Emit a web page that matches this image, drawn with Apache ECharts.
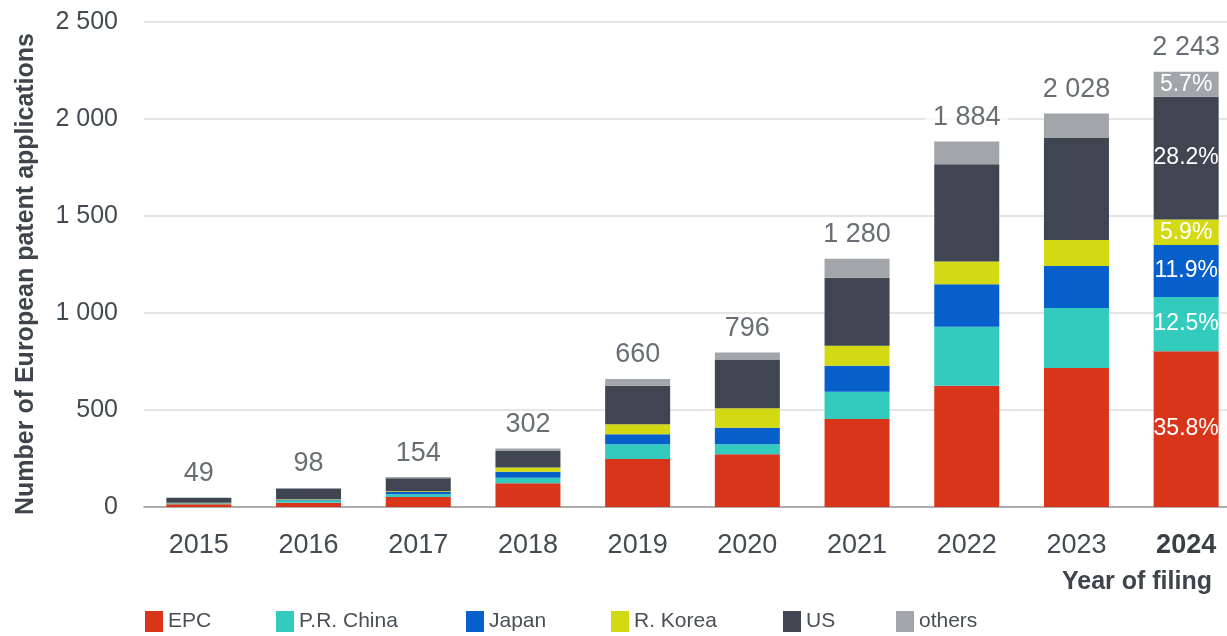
<!DOCTYPE html>
<html>
<head>
<meta charset="utf-8">
<script src="https://cdn.jsdelivr.net/npm/echarts@6/dist/echarts.min.js"></script>
<style>
  html, body { margin: 0; padding: 0; background: #fff; overflow: hidden; }
  #chart { width: 1245px; height: 636px; }
</style>
</head>
<body>
<div id="chart"></div>
<script>
// Filing years and applications by applicant origin
const years = ['2015', '2016', '2017', '2018', '2019', '2020', '2021', '2022', '2023', '2024'];
const epc    = [14, 22, 52, 122, 247, 272, 454, 625, 716, 803];
const china  = [3, 12, 14, 29, 76, 51, 140, 304, 310, 280];
const japan  = [2, 4, 11, 31, 52, 86, 134, 219, 216, 267];
const korea  = [3, 2, 4, 21, 51, 100, 103, 117, 134, 132];
const us     = [24, 55, 67, 86, 199, 249, 351, 502, 526, 633];
const others = [3, 3, 6, 13, 35, 38, 98, 117, 126, 128];
const yTicks = [0, 500, 1000, 1500, 2000, 2500];

const seriesDefs = [
  { name: 'EPC', data: epc, color: '#D8351A', legendX: 145 },
  { name: 'P.R. China', data: china, color: '#33CBBE', legendX: 276 },
  { name: 'Japan', data: japan, color: '#075FCB', legendX: 466 },
  { name: 'R. Korea', data: korea, color: '#D3D913', legendX: 611 },
  { name: 'US', data: us, color: '#3F4551', legendX: 783 },
  { name: 'others', data: others, color: '#A2A5AA', legendX: 896 }
];

const FONT = '"Liberation Sans", Arial, Helvetica, sans-serif';
const TEXT = '#444a52';

const totals = years.map((_, i) => seriesDefs.reduce((s, d) => s + d.data[i], 0));
const lastIdx = years.length - 1;

const fmtThousands = v => String(v).replace(/\B(?=(\d{3})+(?!\d))/g, ' ');

const barSeries = seriesDefs.map(def => ({
  name: def.name,
  type: 'bar',
  stack: 'total',
  barWidth: 65,
  itemStyle: { color: def.color },
  emphasis: { disabled: true },
  data: def.data.map((v, i) => {
    if (i !== lastIdx) return v;
    return {
      value: v,
      label: {
        show: true,
        position: 'inside',
        color: '#fff',
        fontFamily: FONT,
        fontSize: 23,
        formatter: () => (v / totals[i] * 100).toFixed(1) + '%'
      }
    };
  })
}));

// Totals written above each stack
const totalSeries = {
  name: 'Total',
  type: 'scatter',
  symbolSize: 1,
  itemStyle: { color: 'transparent' },
  z: 10,
  data: totals,
  label: {
    show: true,
    position: 'top',
    distance: 10,
    color: TEXT,
    fontFamily: FONT,
    fontSize: 27,
    backgroundColor: '#fff',
    padding: [0, 8],
    formatter: p => fmtThousands(p.value)
  }
};

// One legend block per series so each entry sits at its own x position
const legends = seriesDefs.map(def => ({
  data: [def.name],
  left: def.legendX,
  top: 611,
  padding: 0,
  itemWidth: 18,
  itemHeight: 21,
  itemGap: 0,
  icon: 'rect',
  textStyle: { color: '#4a4f57', fontSize: 21, fontFamily: FONT }
}));

const chart = echarts.init(document.getElementById('chart'));
chart.setOption({
  animation: false,
  backgroundColor: '#fff',
  grid: { left: 144, right: 4, top: 22, height: 485 },
  legend: legends,
  xAxis: {
    type: 'category',
    data: years,
    axisTick: { show: false },
    axisLine: { lineStyle: { color: '#9a9a9a', width: 1.5 } },
    axisLabel: {
      interval: 0,
      margin: 25,
      fontSize: 27,
      color: TEXT,
      fontFamily: FONT,
      formatter: (v, i) => i === lastIdx ? '{b|' + v + '}' : v,
      rich: { b: { fontWeight: 'bold', fontSize: 27, color: '#3a3f47', fontFamily: FONT } }
    }
  },
  yAxis: {
    type: 'value',
    min: yTicks[0],
    max: yTicks[yTicks.length - 1],
    interval: 500,
    axisLabel: {
      margin: 26,
      fontSize: 25,
      color: TEXT,
      fontFamily: FONT,
      formatter: v => fmtThousands(v)
    },
    splitLine: { lineStyle: { color: '#dcdcdc', width: 1.5 } }
  },
  graphic: [
    {
      type: 'text',
      x: 26,
      y: 274,
      rotation: Math.PI / 2,
      style: {
        text: 'Number of European patent applications',
        fontSize: 25,
        fontWeight: 'bold',
        fill: '#3f444c',
        fontFamily: FONT,
        align: 'center',
        verticalAlign: 'middle'
      }
    },
    {
      type: 'text',
      x: 1212,
      y: 582,
      style: {
        text: 'Year of filing',
        fontSize: 25,
        fontWeight: 'bold',
        fill: '#3f444c',
        fontFamily: FONT,
        align: 'right',
        verticalAlign: 'middle'
      }
    }
  ],
  series: [...barSeries, totalSeries]
});
</script>
</body>
</html>
